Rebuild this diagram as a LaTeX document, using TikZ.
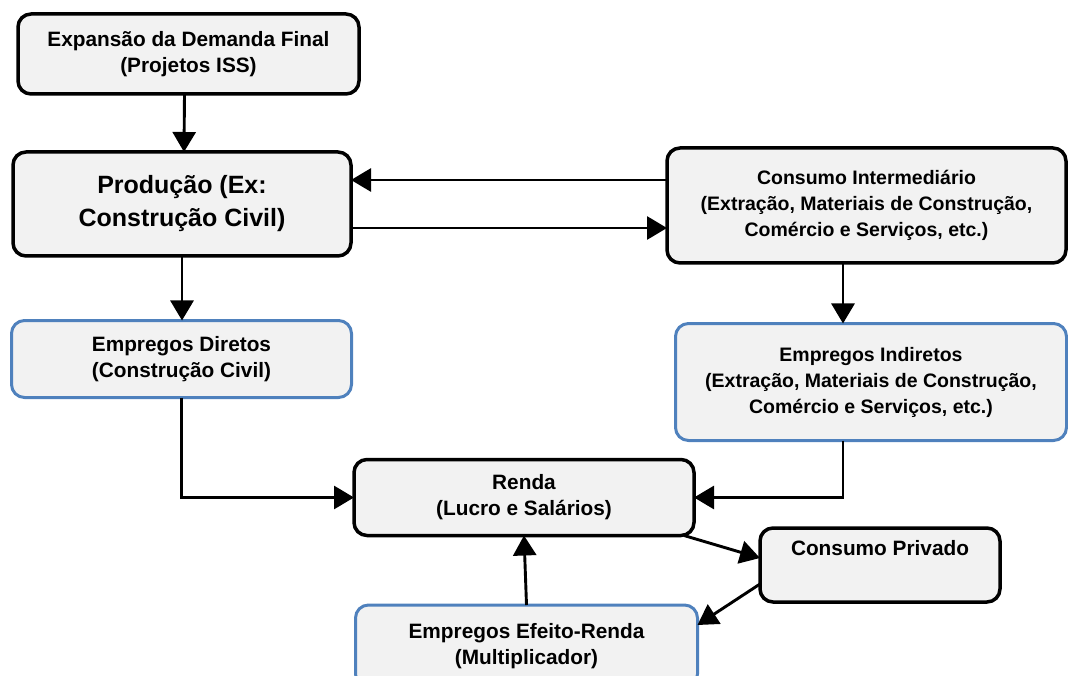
\documentclass[tikz,border=0pt]{standalone}
\usepackage{fontspec}
\setmainfont{Liberation Sans}
\usetikzlibrary{arrows.meta,calc}
\definecolor{boxfill}{HTML}{F2F2F2}
\definecolor{boxblue}{RGB}{79,129,189}
\begin{document}
\begin{tikzpicture}[x=1pt,y=-1pt,
  blackbox/.style={draw=black,line width=3.5pt,fill=boxfill,rounded corners=13pt,
    align=center,inner sep=0pt,outer sep=0pt,
    font=\bfseries\fontsize{20.8}{26}\selectfont},
  bluebox/.style={blackbox,draw=boxblue,line width=3pt},
  smalltext/.style={font=\bfseries\fontsize{19.5}{26}\selectfont},
  conn/.style={line width=2.9pt,-{Triangle[length=20pt,width=23pt]}}]
\useasboundingbox (0,0) rectangle (1068,676);
\begin{scope}
\clip (0,0) rectangle (1068,676);
\node[blackbox,minimum width=341pt,minimum height=80pt] (exp) at (188.5,54)
  {Expansão da Demanda Final\\(Projetos ISS)};
\node[blackbox,minimum width=338pt,minimum height=104pt,
  font=\bfseries\fontsize{25}{33}\selectfont] (prod) at (182,204)
  {Produção (Ex:\\Construção Civil)};
\node[blackbox,smalltext,minimum width=399pt,minimum height=115pt] (ci) at (866.5,205.5)
  {Consumo Intermediário\\(Extração, Materiais de Construção,\\Comércio e Serviços, etc.)};
\node[bluebox,minimum width=340pt,minimum height=77pt] (ed) at (181.5,359)
  {Empregos Diretos\\(Construção Civil)};
\node[bluebox,smalltext,minimum width=391pt,minimum height=117pt] (ei) at (871,382)
  {Empregos Indiretos\\(Extração, Materiais de Construção,\\Comércio e Serviços, etc.)};
\node[blackbox,minimum width=340pt,minimum height=76pt] (renda) at (524,497.5)
  {Renda\\(Lucro e Salários)};
\node[blackbox,minimum width=240pt,minimum height=74pt] (cp) at (880,565)
  {Consumo Privado\\\strut};
\node[bluebox,minimum width=342pt,minimum height=82pt] (efr) at (526.5,646)
  {Empregos Efeito-Renda\\(Multiplicador)};
\end{scope}
\draw[conn] ([xshift=-4pt]exp.south) -- ([xshift=2pt]prod.north);
\draw[conn] ([yshift=25.5pt]ci.west) -- ([yshift=25.5pt]ci.west -| prod.east);
\draw[conn] ([yshift=-24pt]prod.east) -- ([yshift=-24pt]prod.east -| ci.west);
\draw[conn] (prod.south) -- (prod.south |- ed.north);
\draw[conn] ([xshift=-23.5pt]ci.south) -- ([xshift=-23.5pt]ci.south |- ei.north);
\draw[conn] (ed.south) |- (renda.west);
\draw[conn] ([xshift=-28pt]ei.south) |- (renda.east);
\draw[conn] ([xshift=-10pt]renda.south east) -- ([yshift=7pt]cp.west);
\draw[conn] ([yshift=-19pt]cp.west) -- ([yshift=21pt]efr.east);
\draw[conn] (efr.north) -- (renda.south);
\end{tikzpicture}
\end{document}
